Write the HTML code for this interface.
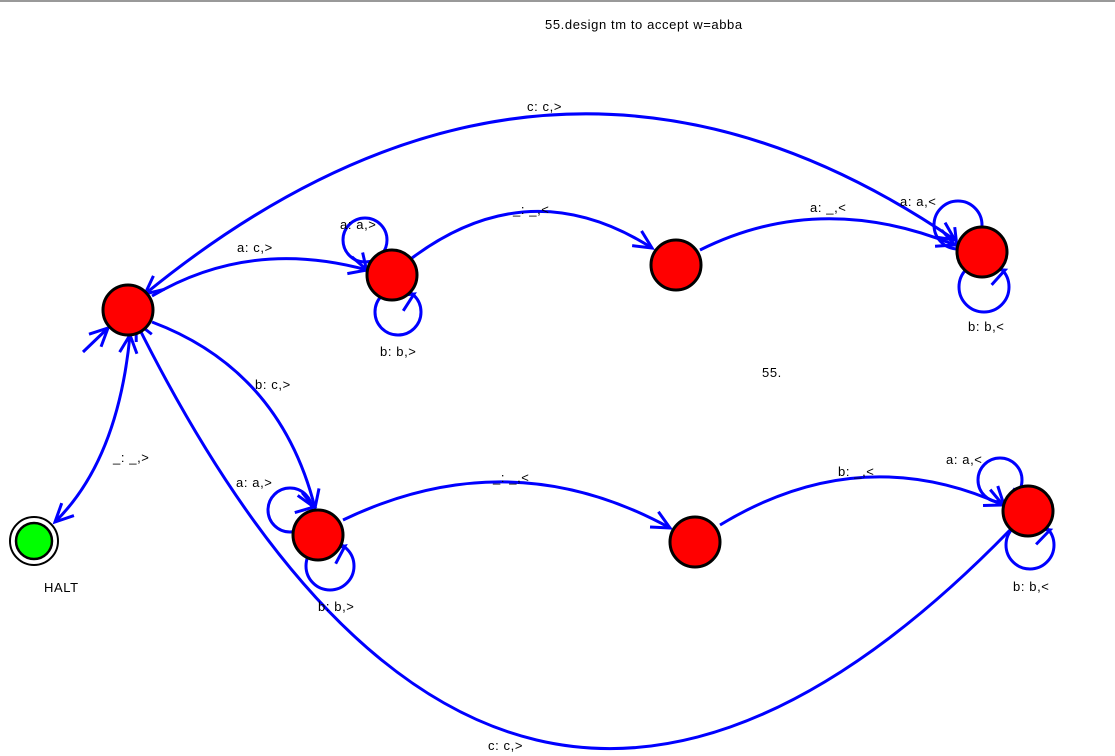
<!DOCTYPE html>
<html><head><meta charset="utf-8"><style>
body{margin:0;background:#fff;width:1115px;height:756px;overflow:hidden}
svg{display:block}
text{font-family:"Liberation Sans",sans-serif;font-size:13px;letter-spacing:0.6px;fill:#000}
</style></head><body>
<svg id="s" width="1115" height="756">
<line x1="0" y1="1" x2="1115" y2="1" stroke="#999" stroke-width="2"/>
<text x="545" y="29">55.design tm to accept w=abba</text>
<text x="762" y="377">55.</text>
</svg>
<script>
const NS='http://www.w3.org/2000/svg';
const svg=document.getElementById('s');
const stateNames=['q0','q1','q2','q3','q4','q5','q6'];
const stateX=[128,392,676,982,318,695,1028];
const stateY=[310,275,265,252,535,542,511];
// edges: [x0,y0,cx,cy,x1,y1,label,lx,ly,arrowStart]
const edges=[
 [152,296,250,238,367,270,'a: c,>',237,252,false],
 [145,294,550,-37,955,240,'c: c,>',527,111,true],
 [412,258,530,170,652,248,'_: _,<',513,214,false],
 [700,250,820,190,955,245,'a: _,<',810,212,false],
 [152,322,280,370,315,508,'b: c,>',255,389,false],
 [130,335,118,460,55,522,'_: _,>',113,462,true],
 [1010,530,500,1054,136,322,'c: c,>',488,750,false],
 [343,520,510,440,670,528,'_: _,<',493,482,false],
 [720,525,860,440,1003,505,'b: _,<',838,476,false]
];
// loops: [cx,cy,r,label,lx,ly,endx,endy]
const loops=[
 [365,240,22,'a: a,>',340,229,367,272],
 [398,312,23,'b: b,>',380,356,414,294],
 [958,225,24,'a: a,<',900,206,957,247],
 [984,287,25,'b: b,<',968,331,1005,270],
 [290,510,22,'a: a,>',236,487,314,507],
 [330,566,24,'b: b,>',318,611,345,546],
 [1000,480,22,'a: a,<',946,464,1004,505],
 [1030,545,24,'b: b,<',1013,591,1050,530]
];
function el(t,a){const e=document.createElementNS(NS,t);for(const k in a)e.setAttribute(k,a[k]);svg.appendChild(e);return e;}
function arrow(x,y,dx,dy,name){
 const L=Math.hypot(dx,dy);dx/=L;dy/=L;const s=20,a=0.45;
 const ax=x-s*(dx*Math.cos(a)-dy*Math.sin(a)),ay=y-s*(dy*Math.cos(a)+dx*Math.sin(a));
 const bx=x-s*(dx*Math.cos(-a)-dy*Math.sin(-a)),by=y-s*(dy*Math.cos(-a)+dx*Math.sin(-a));
 const p=el('path',{d:`M${ax},${ay}L${x},${y}L${bx},${by}`,fill:'none',stroke:'#0000ff','stroke-width':3});
 
 
}
edges.forEach((e,i)=>{
 const p=el('path',{d:`M${e[0]},${e[1]}Q${e[2]},${e[3]} ${e[4]},${e[5]}`,fill:'none',stroke:'#0000ff','stroke-width':3});
 
 
 arrow(e[4],e[5],e[4]-e[2],e[5]-e[3],'arrowhead-'+i);
 if(e[9])arrow(e[0],e[1],e[0]-e[2],e[1]-e[3],'arrowhead-start-'+i);
 const t=el('text',{x:e[7],y:e[8]});t.textContent=e[6];
 
 
});
loops.forEach((l,i)=>{
 const c=el('circle',{cx:l[0],cy:l[1],r:l[2],fill:'none',stroke:'#0000ff','stroke-width':3});
 
 
 arrow(l[6],l[7],l[6]-l[0]-(l[7]-l[1])*0.3,l[7]-l[1]+(l[6]-l[0])*0.3,'loop-arrowhead-'+i);
 const t=el('text',{x:l[4],y:l[5]});t.textContent=l[3];
 
 
});
const st=el('path',{d:'M83,352L108,328',fill:'none',stroke:'#0000ff','stroke-width':3});


arrow(108,328,25,-24,'start-arrowhead');
stateNames.forEach((n,i)=>{
 const c=el('circle',{cx:stateX[i],cy:stateY[i],r:25,fill:'#ff0000',stroke:'#000','stroke-width':3});
 
 
});
const h1=el('circle',{cx:34,cy:541,r:24,fill:'#fff',stroke:'#000','stroke-width':2});


const h2=el('circle',{cx:34,cy:541,r:18,fill:'#00ff00',stroke:'#000','stroke-width':2.5});


const ht=el('text',{x:44,y:592});ht.textContent='HALT';


</script>
</body></html>
